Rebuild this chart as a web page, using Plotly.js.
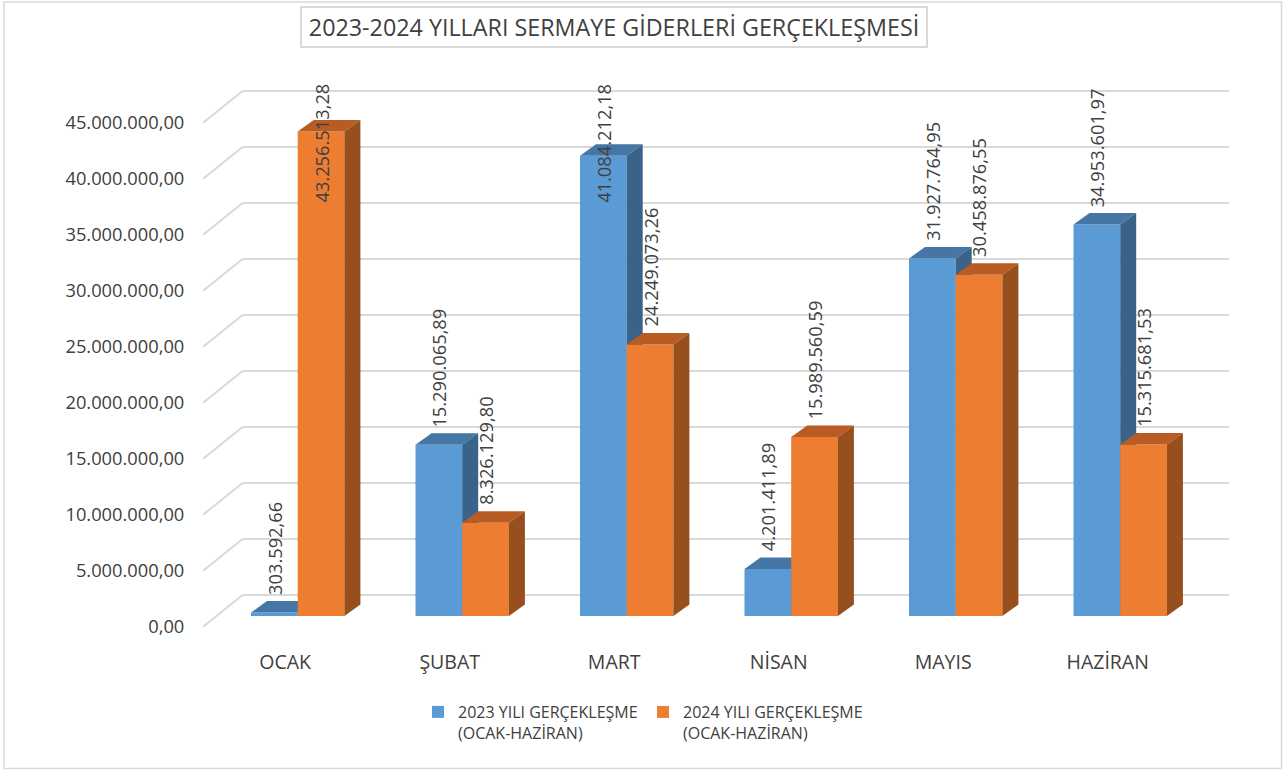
<!DOCTYPE html>
<html>
<head>
<meta charset="utf-8">
<script src="https://cdn.plot.ly/plotly-3.0.1.min.js"></script>
<style>html,body{margin:0;padding:0;background:#fff;}#chart{width:1287px;height:771px;}</style>
</head>
<body>
<div id="chart"></div>
<script>
// ---------------- DATA ----------------
const categories = ['OCAK', 'ŞUBAT', 'MART', 'NİSAN', 'MAYIS', 'HAZİRAN'];
const values2023 = [303592.66, 15290065.89, 41084212.18, 4201411.89, 31927764.95, 34953601.97];
const values2024 = [43256513.28, 8326129.80, 24249073.26, 15989560.59, 30458876.55, 15315681.53];
const seriesNames = ['2023 YILI GERÇEKLEŞME<br>(OCAK-HAZİRAN)', '2024 YILI GERÇEKLEŞME<br>(OCAK-HAZİRAN)'];
const yTickValues = [0, 5000000, 10000000, 15000000, 20000000, 25000000, 30000000, 35000000, 40000000, 45000000];
const chartTitle = '2023-2024 YILLARI SERMAYE GİDERLERİ GERÇEKLEŞMESİ';

// ---------------- GEOMETRY / STYLE ----------------
const W = 1287, H = 771;
const M = {l: 203, r: 58, t: 60, b: 131};
const PW = W - M.l - M.r, PH = H - M.t - M.b, PY_BOTTOM = H - M.b;
const X0PX = 297.7, XSTEP = 164.5;            // pixel of category 0 centre, pixels per category
const PX_PER_UNIT = 11.2 / 1e6;                // vertical pixels per value unit
const Y_LABEL_ZERO = 626.7, Y_BAR_ZERO = 616, Y_BACK_ZERO = 595;
const xRange = [(M.l - X0PX) / XSTEP, (W - M.r - X0PX) / XSTEP];
function yRangeFor(zeroPx) { return [(zeroPx - PY_BOTTOM) / PX_PER_UNIT, (zeroPx - M.t) / PX_PER_UNIT]; }
const WALL_DX = 39.6 / XSTEP, WALL_DY = (Y_LABEL_ZERO - Y_BACK_ZERO) / PX_PER_UNIT;
const BAR_W = 46.7 / XSTEP, DEPTH_DX = 16 / XSTEP, DEPTH_DY = 11.5 / PX_PER_UNIT;
const LABEL_MAX = (Y_BAR_ZERO - 209) / PX_PER_UNIT;
const LABEL_OFFSET = -12.5 / XSTEP;
function paperX(px) { return (px - M.l) / PW; }
function paperY(py) { return (PY_BOTTOM - py) / PH; }

const FONT = 'Open Sans, Liberation Sans, sans-serif';
const TXT = '#404040';
const GRID = '#d9d9d9';
const palette = [
  {front: '#5B9BD5', top: '#4676A6', side: '#3A6389'},
  {front: '#ED7D31', top: '#B85C24', side: '#974F1E'}
];

function trFmt(v) {
  const parts = v.toFixed(2).split('.');
  const intPart = parts[0].replace(/\B(?=(\d{3})+(?!\d))/g, '.');
  return intPart + ',' + parts[1];
}

const series = [values2023, values2024];
const offsets = [-BAR_W, 0];
const yAxesIds = ['y2', 'y3'];
const idx = categories.map((c, i) => i);

const traces = [];
const annotations = [];

series.forEach((vals, s) => {
  const col = palette[s];
  traces.push({
    type: 'bar', name: seriesNames[s], x: idx, y: vals,
    width: BAR_W, offset: offsets[s], yaxis: yAxesIds[s],
    marker: {color: col.front, line: {width: 0}}, hoverinfo: 'skip'
  });
  vals.forEach((v, i) => {
    const xl = i + offsets[s], xr = xl + BAR_W;
    traces.push({
      type: 'scatter', mode: 'lines', yaxis: yAxesIds[s], showlegend: false, hoverinfo: 'skip',
      x: [xl, xr, xr + DEPTH_DX, xl + DEPTH_DX, xl],
      y: [v, v, v + DEPTH_DY, v + DEPTH_DY, v],
      fill: 'toself', fillcolor: col.top, line: {width: 0, color: col.top}
    });
    traces.push({
      type: 'scatter', mode: 'lines', yaxis: yAxesIds[s], showlegend: false, hoverinfo: 'skip',
      x: [xr, xr + DEPTH_DX, xr + DEPTH_DX, xr, xr],
      y: [0, DEPTH_DY, v + DEPTH_DY, v, 0],
      fill: 'toself', fillcolor: col.side, line: {width: 0, color: col.side}
    });
    annotations.push({
      xref: 'x', yref: 'y2', x: xl + BAR_W / 2, y: Math.min(v + DEPTH_DY, LABEL_MAX),
      text: trFmt(v), textangle: -90, showarrow: false,
      xanchor: 'center', yanchor: 'bottom', yshift: 4,
      font: {family: FONT, size: 18.3, color: TXT}
    });
  });
});

// title box
annotations.push({
  xref: 'paper', yref: 'paper', x: paperX(614), y: paperY(27.5),
  xanchor: 'center', yanchor: 'middle', showarrow: false,
  text: chartTitle, width: 618, height: 32,
  bordercolor: GRID, borderwidth: 2, borderpad: 3,
  font: {family: FONT, size: 23.3, color: TXT}
});

const shapes = [];
yTickValues.forEach(v => {
  shapes.push({type: 'line', xref: 'x', yref: 'y', layer: 'below',
    x0: xRange[0], y0: v, x1: xRange[0] + WALL_DX, y1: v + WALL_DY,
    line: {color: GRID, width: 2}});
  shapes.push({type: 'line', xref: 'x', yref: 'y', layer: 'below',
    x0: xRange[0] + WALL_DX, y0: v + WALL_DY, x1: xRange[1], y1: v + WALL_DY,
    line: {color: GRID, width: 2}});
});
// outer chart frame
shapes.push({type: 'rect', xref: 'paper', yref: 'paper',
  x0: paperX(4), x1: paperX(1281.5), y0: paperY(768.5), y1: paperY(2),
  line: {color: GRID, width: 1.5}});

const layout = {
  width: W, height: H, margin: M,
  paper_bgcolor: '#ffffff', plot_bgcolor: 'rgba(0,0,0,0)',
  separators: ',.',
  showlegend: true,
  xaxis: {
    range: xRange, tickvals: idx.map(i => i + LABEL_OFFSET), ticktext: categories,
    showgrid: false, zeroline: false, showline: false,
    ticks: 'outside', ticklen: 5, tickcolor: 'rgba(0,0,0,0)',
    tickfont: {family: FONT, size: 19.5, color: TXT}, fixedrange: true
  },
  yaxis: {
    range: yRangeFor(Y_LABEL_ZERO), tickvals: yTickValues, tickformat: ',.2f',
    showgrid: false, zeroline: false, showline: false,
    ticks: 'outside', ticklen: 14, tickcolor: 'rgba(0,0,0,0)',
    tickfont: {family: FONT, size: 18.3, color: TXT}, fixedrange: true
  },
  yaxis2: {range: yRangeFor(Y_BAR_ZERO), overlaying: 'y', visible: false, fixedrange: true},
  yaxis3: {range: yRangeFor(Y_BAR_ZERO), overlaying: 'y', visible: false, fixedrange: true},
  legend: {
    orientation: 'h', x: paperX(418), y: paperY(695), xanchor: 'left', yanchor: 'top',
    valign: 'top', entrywidth: 180, bgcolor: 'rgba(0,0,0,0)',
    font: {family: FONT, size: 16, color: TXT}
  },
  annotations: annotations,
  shapes: shapes
};

Plotly.newPlot('chart', traces, layout, {displayModeBar: false, staticPlot: true});
</script>
</body>
</html>
